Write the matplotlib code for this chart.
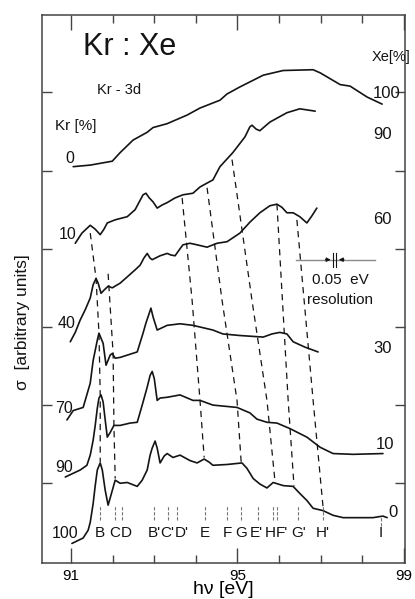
import matplotlib
matplotlib.use("Agg")
import matplotlib.pyplot as plt
from matplotlib.ticker import MultipleLocator, FixedLocator

plt.rcParams['font.family'] = ['Liberation Sans', 'DejaVu Sans']

# photon energy (eV) / cross section (arb. units, curves offset)
kr0_x = [91.05, 91.46, 91.99, 92.18, 92.49, 92.83, 92.97, 93.31, 93.79, 94.10,
         94.58, 94.75, 95.06, 95.62, 96.10, 96.82, 96.99, 97.47, 97.71, 98.12, 98.48]
kr0_y = [5.05, 5.07, 5.12, 5.23, 5.39, 5.49, 5.55, 5.60, 5.71, 5.80,
         5.90, 5.98, 6.07, 6.22, 6.28, 6.29, 6.25, 6.10, 6.08, 5.94, 5.85]

kr10_x = [91.10, 91.26, 91.46, 91.58, 91.70, 91.79, 91.87, 92.06, 92.35, 92.54,
          92.66, 92.73, 92.80, 92.88, 92.97, 93.07, 93.19, 93.31, 93.50, 93.69,
          93.93, 94.10, 94.27, 94.41, 94.58, 94.89, 95.18, 95.30, 95.35, 95.45,
          95.54, 95.78, 96.19, 96.50, 96.87]
kr10_y = [4.07, 4.20, 4.30, 4.25, 4.18, 4.25, 4.33, 4.37, 4.41, 4.50,
          4.62, 4.69, 4.71, 4.65, 4.60, 4.52, 4.56, 4.59, 4.65, 4.69,
          4.71, 4.79, 4.84, 4.88, 5.05, 5.23, 5.43, 5.56, 5.58, 5.53,
          5.51, 5.62, 5.74, 5.79, 5.76]

kr40_x = [90.98, 91.10, 91.22, 91.34, 91.46, 91.53, 91.60, 91.65, 91.72, 91.79,
          91.89, 91.99, 92.18, 92.35, 92.54, 92.66, 92.75, 92.83, 92.90, 92.95,
          93.14, 93.31, 93.40, 93.50, 93.62, 93.69, 93.86, 94.03, 94.27, 94.51,
          94.75, 95.06, 95.30, 95.54, 95.78, 95.95, 96.07, 96.19, 96.34, 96.50,
          96.67, 96.79, 96.91]
kr40_y = [2.81, 2.93, 3.09, 3.22, 3.37, 3.54, 3.62, 3.56, 3.43, 3.47,
          3.52, 3.50, 3.56, 3.64, 3.73, 3.79, 3.88, 3.94, 3.88, 3.86,
          3.91, 3.94, 3.92, 3.91, 4.00, 4.05, 4.07, 4.05, 4.02, 4.07,
          4.09, 4.20, 4.34, 4.46, 4.55, 4.57, 4.53, 4.46, 4.46, 4.41,
          4.33, 4.42, 4.52]

kr70_x = [90.90, 91.05, 91.29, 91.46, 91.53, 91.63, 91.67, 91.77, 91.84, 91.94,
          91.99, 92.06, 92.18, 92.59, 92.73, 92.80, 92.92, 92.97, 93.07, 93.31,
          93.62, 93.93, 94.41, 94.65, 95.06, 95.62, 95.83, 96.02, 96.19, 96.34,
          96.63, 96.94]
kr70_y = [1.81, 1.93, 1.97, 2.28, 2.57, 2.83, 2.92, 2.79, 2.51, 2.64,
          2.66, 2.60, 2.61, 2.68, 2.92, 3.05, 3.24, 3.13, 2.96, 3.02,
          3.04, 3.02, 2.96, 2.91, 2.89, 2.87, 2.91, 2.93, 2.91, 2.81,
          2.74, 2.68]

kr90_x = [90.86, 91.22, 91.38, 91.46, 91.53, 91.58, 91.63, 91.67, 91.72, 91.77,
          91.82, 91.87, 91.94, 92.03, 92.18, 92.42, 92.59, 92.71, 92.83, 92.90,
          92.95, 93.00, 93.07, 93.14, 93.31, 93.62, 93.93, 94.10, 94.41, 94.99,
          95.30, 95.47, 95.71, 95.95, 96.26, 96.67, 96.99, 97.30, 97.78, 98.50]
kr90_y = [1.08, 1.17, 1.23, 1.36, 1.55, 1.74, 1.96, 2.09, 2.13, 2.04,
          1.81, 1.59, 1.65, 1.74, 1.74, 1.77, 1.78, 2.00, 2.23, 2.38,
          2.43, 2.34, 2.06, 2.09, 2.10, 2.13, 2.06, 2.06, 2.00, 1.97,
          1.90, 1.82, 1.78, 1.77, 1.70, 1.59, 1.46, 1.38, 1.37, 1.38]

kr100_x = [91.02, 91.29, 91.41, 91.46, 91.53, 91.58, 91.63, 91.70, 91.75, 91.82,
           91.89, 91.96, 92.06, 92.18, 92.35, 92.59, 92.71, 92.83, 92.90, 92.95,
           93.02, 93.07, 93.14, 93.24, 93.31, 93.45, 93.62, 93.86, 94.03, 94.20,
           94.32, 94.41, 94.75, 95.11, 95.23, 95.38, 95.54, 95.71, 95.86, 96.10,
           96.34, 96.50, 96.67, 96.82, 97.06, 97.30, 97.54, 98.26, 98.50, 98.60]
kr100_y = [0.23, 0.30, 0.40, 0.50, 0.74, 0.97, 1.17, 1.26, 1.17, 0.91,
           0.72, 0.85, 1.04, 1.00, 1.01, 0.96, 1.04, 1.17, 1.36, 1.45,
           1.54, 1.45, 1.26, 1.35, 1.38, 1.33, 1.36, 1.29, 1.26, 1.31,
           1.27, 1.23, 1.24, 1.26, 1.19, 1.06, 0.99, 0.94, 1.01, 0.97,
           0.96, 0.87, 0.78, 0.68, 0.65, 0.59, 0.56, 0.56, 0.58, 0.56]

curves = [(kr0_x, kr0_y), (kr10_x, kr10_y), (kr40_x, kr40_y),
          (kr70_x, kr70_y), (kr90_x, kr90_y), (kr100_x, kr100_y)]

# dashed lines following the features through the series
track_B = ([91.46, 91.60, 91.67, 91.70, 91.70], [4.20, 3.62, 2.92, 2.13, 1.27])
track_C = ([91.89, 92.01, 92.03, 92.06], [3.68, 2.66, 1.74, 1.06])
track_E = ([93.67, 93.91, 94.10, 94.20], [4.65, 3.34, 2.06, 1.33])
track_G = ([94.27, 94.63, 94.99, 95.09], [4.78, 3.34, 2.06, 1.27])
track_H = ([94.87, 95.01, 95.35, 95.71, 95.90], [5.14, 4.62, 3.34, 2.06, 1.04])
track_G2 = ([95.95, 96.22, 96.36], [4.57, 2.06, 0.97])
track_H2 = ([96.43, 96.82, 97.06], [4.37, 2.06, 0.69])
tracks = [track_B, track_C, track_E, track_G, track_H, track_G2, track_H2]

# feature assignments (Kr 3d -> np)
feat_names = ["B", "C", "D", "B'", "C'", "D'", "E", "F", "G", "E'", "H", "F'", "G'", "H'", "I"]
feat_pos = [91.70, 92.06, 92.23, 93.00, 93.33, 93.55, 94.22, 94.75, 95.09,
            95.50, 95.86, 95.95, 96.46, 97.06, 98.45]
feat_text_x = [91.70, 92.04, 92.32, 93.00, 93.31, 93.67, 94.22, 94.75, 95.09,
               95.46, 95.80, 96.08, 96.46, 97.06, 98.45]

kr_pct = ["0", "10", "40", "70", "90", "100"]
kr_lab_x = [91.07, 91.14, 91.10, 91.05, 91.05, 91.17]
kr_lab_y = [5.15, 4.18, 3.04, 1.96, 1.20, 0.36]
xe_pct = ["100", "90", "60", "30", "10", "0"]
xe_lab_x = [98.26, 98.26, 98.26, 98.26, 98.33, 98.62]
xe_lab_y = [5.98, 5.46, 4.38, 2.72, 1.50, 0.63]

ink = '#141414'

fig = plt.figure(figsize=(4.15, 5.99), dpi=100)
ax = fig.add_axes([42 / 415, 36 / 599, 363 / 415, 548 / 599])

for x, y in curves:
    ax.plot(x, y, color=ink, lw=1.2, solid_joinstyle='round', solid_capstyle='round')

for x, y in tracks:
    ax.plot(x, y, color=ink, lw=0.9, dashes=(5, 4))

for name, p, tx in zip(feat_names, feat_pos, feat_text_x):
    lo, hi = (0.45, 0.58) if name == "I" else (0.53, 0.72)
    ax.plot([p, p], [lo, hi], color='#777777', lw=0.8, dashes=(3, 1.5))
    ax.text(tx, 0.37, name, ha='center', va='center', fontsize=11, color=ink)

for t, x, y in zip(kr_pct, kr_lab_x, kr_lab_y):
    ax.text(x, y, t, ha='right', va='center', fontsize=11.5, color=ink)
for t, x, y in zip(xe_pct, xe_lab_x, xe_lab_y):
    ax.text(x, y, t, ha='left', va='center', fontsize=12, color=ink)

ax.text(91.29, 6.58, "Kr : Xe", ha='left', va='center', fontsize=22, color=ink)
ax.text(91.63, 6.03, "Kr - 3d", ha='left', va='center', fontsize=10.5, color=ink)
ax.text(90.62, 5.57, "Kr [%]", ha='left', va='center', fontsize=11, color=ink)
ax.text(98.22, 6.45, "Xe[%]", ha='left', va='center', fontsize=10.5, color=ink)

# resolution marker
ax.plot([96.41, 98.31], [3.86, 3.86], color='#8a8a8a', lw=1.0)
ax.annotate('', xy=(97.31, 3.86), xytext=(97.05, 3.86),
            arrowprops=dict(arrowstyle='-|>', color=ink, lw=0.8, mutation_scale=6))
ax.annotate('', xy=(97.37, 3.86), xytext=(97.63, 3.86),
            arrowprops=dict(arrowstyle='-|>', color=ink, lw=0.8, mutation_scale=6))
ax.plot([97.31, 97.31], [3.77, 3.95], color=ink, lw=0.8)
ax.plot([97.37, 97.37], [3.77, 3.95], color=ink, lw=0.8)
ax.text(97.47, 3.60, "0.05  eV", ha='center', va='center', fontsize=11, color=ink)
ax.text(97.47, 3.34, "resolution", ha='center', va='center', fontsize=11, color=ink)

ax.set_xlim(90.30, 99.03)
ax.set_ylim(-0.02, 6.99)
ax.xaxis.set_major_locator(FixedLocator([91, 95, 99]))
ax.xaxis.set_minor_locator(MultipleLocator(1))
ax.yaxis.set_major_locator(FixedLocator([1, 2, 3, 4, 5, 6]))
ax.set_yticklabels([])
ax.tick_params(axis='x', which='major', direction='in', top=True, length=11,
               width=1.0, color='#444444', labelsize=11, pad=4)
ax.tick_params(axis='x', which='minor', direction='in', top=True, length=6,
               width=1.0, color='#444444')
ax.tick_params(axis='y', which='major', direction='in', right=True, length=7.5,
               width=1.0, color='#444444')
for s in ax.spines.values():
    s.set_color('#444444')
    s.set_linewidth(1.1)

ax.set_xlabel("hν [eV]", fontsize=14, labelpad=-1)
ax.text(-0.055, 0.44, "σ  [arbitrary units]", rotation=90, ha='center', va='center',
        fontsize=12.5, transform=ax.transAxes, color=ink)

fig.savefig("out.png", dpi=100)
